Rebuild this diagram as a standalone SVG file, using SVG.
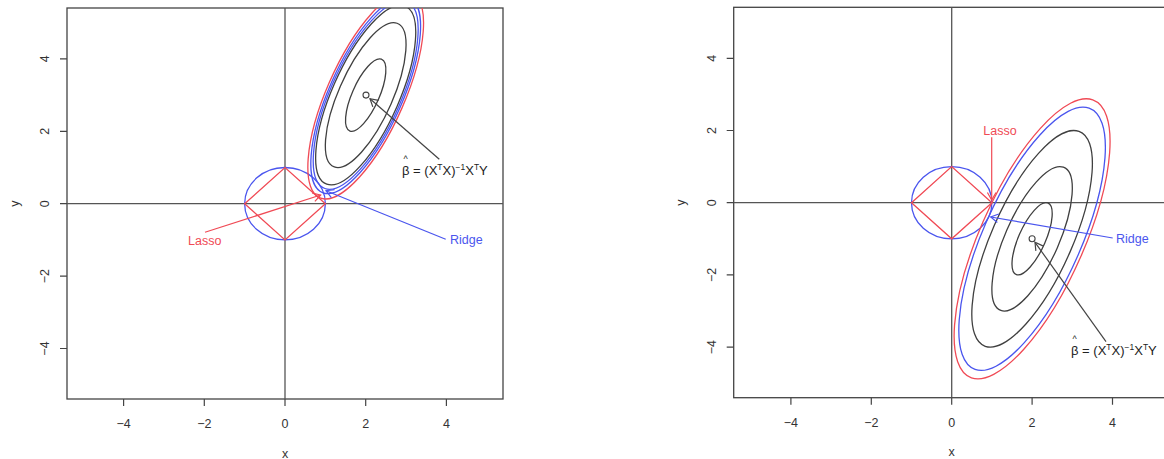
<svg xmlns="http://www.w3.org/2000/svg" width="1164" height="459" viewBox="0 0 1164 459">
<style>
text{font-family:"Liberation Sans",Arial,sans-serif;font-size:12.5px;fill:#333}
.box{fill:none;stroke:#444;stroke-width:1.3}
.ax{stroke:#555;stroke-width:1.3;fill:none}
.tk{stroke:#444;stroke-width:1.2}
.ct{fill:none;stroke:#404040;stroke-width:1.3;vector-effect:non-scaling-stroke}
.bl{fill:none;stroke:#4a55ee;stroke-width:1.3;vector-effect:non-scaling-stroke}
.rd{fill:none;stroke:#f04a55;stroke-width:1.3;vector-effect:non-scaling-stroke}
.ra{stroke:#f04a55;stroke-width:1.2;fill:none;marker-end:url(#mr)}
.ba{stroke:#4a55ee;stroke-width:1.2;fill:none;marker-end:url(#mb)}
.ka{stroke:#444;stroke-width:1.2;fill:none;marker-end:url(#mk)}
.lr{fill:#f04a55}
.lb{fill:#4a55ee}
.eq{fill:#222;font-size:13px}
.hat{fill:#222;font-size:9px}
.sup{font-size:8.5px}
</style>
<defs>
<marker id="mr" markerUnits="userSpaceOnUse" markerWidth="20" markerHeight="20" viewBox="-10 -10 20 20" refX="0" refY="0" orient="auto"><path d="M-7.5,-4.3 L0,0 L-7.5,4.3" fill="none" stroke="#f04a55" stroke-width="1.2"/></marker>
<marker id="mb" markerUnits="userSpaceOnUse" markerWidth="20" markerHeight="20" viewBox="-10 -10 20 20" refX="0" refY="0" orient="auto"><path d="M-7.5,-4.3 L0,0 L-7.5,4.3" fill="none" stroke="#4a55ee" stroke-width="1.2"/></marker>
<marker id="mk" markerUnits="userSpaceOnUse" markerWidth="20" markerHeight="20" viewBox="-10 -10 20 20" refX="0" refY="0" orient="auto"><path d="M-7.5,-4.3 L0,0 L-7.5,4.3" fill="none" stroke="#444" stroke-width="1.2"/></marker>
<clipPath id="clipL"><rect x="67" y="8" width="436" height="391"/></clipPath>
<clipPath id="clipR"><rect x="733.7" y="7.3" width="440" height="390.4"/></clipPath>
</defs>
<rect width="1164" height="459" fill="#fff"/>

<!-- LEFT PLOT -->
<g id="left-axes">
<rect class="box" x="67" y="8" width="436" height="391"/>
<line class="ax" x1="67" y1="203.7" x2="503" y2="203.7"/>
<line class="ax" x1="285" y1="8" x2="285" y2="399"/>
<path class="tk" d="M60,58.9H67M60,131.3H67M60,203.7H67M60,276.1H67M60,348.5H67M123.6,399V406M204.3,399V406M285,399V406M365.7,399V406M446.4,399V406"/>
<g text-anchor="middle">
<text x="123.6" y="427.5">−4</text><text x="204.3" y="427.5">−2</text><text x="285" y="427.5">0</text><text x="365.7" y="427.5">2</text><text x="446.4" y="427.5">4</text>
<text x="285" y="457.5">x</text>
<text transform="translate(49,58.9) rotate(-90)">4</text>
<text transform="translate(49,131.3) rotate(-90)">2</text>
<text transform="translate(49,203.7) rotate(-90)">0</text>
<text transform="translate(49,276.1) rotate(-90)">−2</text>
<text transform="translate(49,348.5) rotate(-90)">−4</text>
<text transform="translate(19,203.7) rotate(-90)">y</text>
</g>
</g>
<g id="left-constraints" clip-path="url(#clipL)">
<g transform="matrix(40.35 0 0 -36.2 285 203.7)">
<ellipse class="bl" cx="0" cy="0" rx="1" ry="1"/>
<polygon class="rd" points="1,0 0,1 -1,0 0,-1"/>
</g>
</g>
<g id="left-contours" clip-path="url(#clipL)">
<g transform="matrix(40.35 0 0 -36.2 285 203.7)">
<g transform="translate(2 3) rotate(68.59)">
<ellipse class="ct" rx="1.0659" ry="0.3373"/>
<ellipse class="ct" rx="2.1318" ry="0.6745"/>
<ellipse class="ct" rx="2.6434" ry="0.8364"/>
<ellipse class="bl" rx="2.7713" ry="0.8769"/>
<ellipse class="bl" rx="2.8992" ry="0.9173"/>
<ellipse class="rd" rx="3.0570" ry="0.9672"/>
</g>
</g>
<circle cx="366" cy="95.1" r="3" fill="none" stroke="#444" stroke-width="1.1"/>
</g>
<g id="left-labels">
<text class="lr" x="188" y="245">Lasso</text>
<text class="lb" x="450" y="243.5">Ridge</text>
<text class="eq" x="402" y="175">β<tspan> = (X</tspan><tspan class="sup" dy="-5.5">T</tspan><tspan dy="5.5">X)</tspan><tspan class="sup" dy="-5.5">−1</tspan><tspan dy="5.5">X</tspan><tspan class="sup" dy="-5.5">T</tspan><tspan dy="5.5">Y</tspan></text>
<text class="hat" x="405.6" y="161.5" text-anchor="middle">^</text>
</g>

<!-- RIGHT PLOT -->
<g id="right-axes">
<rect class="box" x="733.7" y="7.3" width="700" height="390.4"/>
<line class="ax" x1="733.7" y1="202.7" x2="1164" y2="202.7"/>
<line class="ax" x1="951.7" y1="7.3" x2="951.7" y2="397.7"/>
<path class="tk" d="M726.7,58.3H733.7M726.7,130.5H733.7M726.7,202.7H733.7M726.7,274.9H733.7M726.7,347.1H733.7M790.9,397.7V404.7M871.3,397.7V404.7M951.7,397.7V404.7M1032.1,397.7V404.7M1112.5,397.7V404.7"/>
<g text-anchor="middle">
<text x="790.9" y="426.5">−4</text><text x="871.3" y="426.5">−2</text><text x="951.7" y="426.5">0</text><text x="1032.1" y="426.5">2</text><text x="1112.5" y="426.5">4</text>
<text x="951.7" y="456">x</text>
<text transform="translate(715.5,58.3) rotate(-90)">4</text>
<text transform="translate(715.5,130.5) rotate(-90)">2</text>
<text transform="translate(715.5,202.7) rotate(-90)">0</text>
<text transform="translate(715.5,274.9) rotate(-90)">−2</text>
<text transform="translate(715.5,347.1) rotate(-90)">−4</text>
<text transform="translate(685,202.7) rotate(-90)">y</text>
</g>
</g>
<g id="right-constraints" clip-path="url(#clipR)">
<g transform="matrix(40.2 0 0 -36.1 951.7 202.7)">
<ellipse class="bl" cx="0" cy="0" rx="1" ry="1"/>
<polygon class="rd" points="1,0 0,1 -1,0 0,-1"/>
</g>
</g>
<g id="right-contours" clip-path="url(#clipR)">
<g transform="matrix(40.2 0 0 -36.1 951.7 202.7)">
<g transform="translate(2 -1) rotate(68.59)">
<ellipse class="ct" rx="1.0659" ry="0.3373"/>
<ellipse class="ct" rx="2.1318" ry="0.6745"/>
<ellipse class="ct" rx="3.1977" ry="1.0118"/>
<ellipse class="bl" rx="3.8863" ry="1.2296"/>
<ellipse class="rd" rx="4.1351" ry="1.3083"/>
</g>
</g>
<circle cx="1032.1" cy="238.8" r="3" fill="none" stroke="#444" stroke-width="1.1"/>
</g>
<g id="right-labels">
<text class="lr" x="983.3" y="135">Lasso</text>
<text class="lb" x="1116" y="243">Ridge</text>
<text class="eq" x="1071" y="355">β<tspan> = (X</tspan><tspan class="sup" dy="-5.5">T</tspan><tspan dy="5.5">X)</tspan><tspan class="sup" dy="-5.5">−1</tspan><tspan dy="5.5">X</tspan><tspan class="sup" dy="-5.5">T</tspan><tspan dy="5.5">Y</tspan></text>
<text class="hat" x="1074.6" y="341.5" text-anchor="middle">^</text>
</g>

<g id="connectors">
<line class="ra" x1="205" y1="232.3" x2="320.7" y2="195"/>
<line class="ba" x1="445.7" y1="239.3" x2="326" y2="190.7"/>
<line class="ka" x1="439.3" y1="159.3" x2="370" y2="98.7"/>
<line class="ra" x1="991.7" y1="137.3" x2="991.7" y2="200"/>
<line class="ba" x1="1112.7" y1="238" x2="990.7" y2="217"/>
<line class="ka" x1="1106" y1="341.7" x2="1035" y2="242.3"/>
</g>
</svg>
